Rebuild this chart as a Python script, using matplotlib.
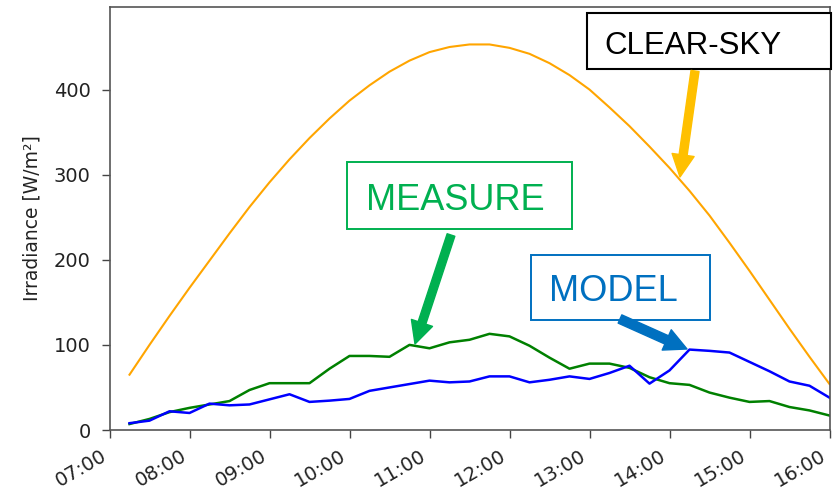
import matplotlib
matplotlib.use("Agg")
import matplotlib.pyplot as plt
import matplotlib.dates as mdates
from matplotlib.patches import Rectangle, FancyArrowPatch
import pandas as pd

# ---- data ----
times = ["07:15", "07:30", "07:45", "08:00", "08:15", "08:30", "08:45", "09:00",
         "09:15", "09:30", "09:45", "10:00", "10:15", "10:30", "10:45", "11:00",
         "11:15", "11:30", "11:45", "12:00", "12:15", "12:30", "12:45", "13:00",
         "13:15", "13:30", "13:45", "14:00", "14:15", "14:30", "14:45", "15:00",
         "15:15", "15:30", "15:45", "16:00"]

clear_sky = [65, 100, 134, 167, 199, 231, 262, 291,
             318, 343, 366, 387, 405, 421, 434, 444,
             450, 453, 453, 449, 442, 431, 417, 400,
             379, 357, 333, 308, 281, 252, 220, 187,
             153, 119, 86, 54]

measure = [7, 13, 21, 26, 30, 34, 47, 55,
           55, 55, 72, 87, 87, 86, 100, 96,
           103, 106, 113, 110, 99, 85, 72, 78,
           78, 73, 62, 55, 53, 44, 38, 33,
           34, 27, 23, 17]

model = [8, 11, 22, 20, 31, 29, 30, 36,
         42, 33, 34.5, 36.5, 46, 50, 54, 58,
         56, 57, 63, 63, 56, 59, 63, 60,
         67, 75.5, 54.5, 70, 94.5, 93, 91, 80,
         69, 57, 52, 38]

y_ticks = [0, 100, 200, 300, 400]
y_label = "Irradiance [W/m²]"

DAY = "2020-01-01 "
t = pd.to_datetime([DAY + s for s in times])

W, H = 839, 497
fig = plt.figure(figsize=(W / 100, H / 100), dpi=100)
ax = fig.add_axes([109.5 / W, (H - 430) / H, (829.5 - 109.5) / W, (430 - 7) / H])

ax.plot(t, clear_sky, color="orange", lw=1.5)
ax.plot(t, measure, color="green", lw=1.8)
ax.plot(t, model, color="blue", lw=1.8)

ax.set_xlim(pd.Timestamp(DAY + "07:00"), pd.Timestamp(DAY + "16:00"))
ax.set_ylim(0, 497)
ax.set_yticks(y_ticks)
ax.xaxis.set_major_locator(mdates.HourLocator())
ax.xaxis.set_major_formatter(mdates.DateFormatter("%H:%M"))
for lab in ax.get_xticklabels():
    lab.set_rotation(30)
    lab.set_ha("right")

ax.tick_params(labelsize=14, length=5.5, width=1.0, color="#444444",
               labelcolor="#222222")
ax.tick_params(axis="y", pad=8)
ax.tick_params(axis="x", pad=6)
for sp in ax.spines.values():
    sp.set_color("#555555")
    sp.set_linewidth(1.2)
ax.set_ylabel(y_label, fontsize=13.5, color="#222222", labelpad=9)


def fp(x, y):
    return (x / W, 1 - y / H)


def box(x0, y0, x1, y1, ec, lw):
    fig.add_artist(Rectangle(fp(x0, y1), (x1 - x0) / W, (y1 - y0) / H,
                             transform=fig.transFigure, facecolor="white",
                             edgecolor=ec, lw=lw, zorder=5))


def label(x, y, s, c, size):
    fig.text(*fp(x, y), s, color=c, fontsize=size, family="Liberation Sans",
             ha="left", va="baseline", zorder=6)


def arrow(x0, y0, x1, y1, c, tw=5.8):
    fig.add_artist(FancyArrowPatch(fp(x0, y0), fp(x1, y1), transform=fig.transFigure,
                                   arrowstyle=f"simple,head_length=16,head_width=16,tail_width={tw}",
                                   mutation_scale=1, color=c, shrinkA=0, shrinkB=0,
                                   zorder=7))


# CLEAR-SKY
box(586.7, 13.3, 830.5, 69.3, "black", 1.5)
label(604, 53.5, "CLEAR-SKY", "black", 22.5)
arrow(695, 71, 680, 177, "#FFC000")

# MEASURE
box(346.7, 162.3, 571.7, 229.3, "#00B050", 1.4)
label(366, 209.5, "MEASURE", "#00B050", 26)
arrow(451, 235, 415, 344, "#00B050")

# MODEL
box(531, 255, 710, 320, "#0070C0", 1.4)
label(549, 301, "MODEL", "#0070C0", 26)
arrow(620, 319, 687, 349, "#0070C0", tw=6.5)

fig.savefig("out.png", dpi=100)
